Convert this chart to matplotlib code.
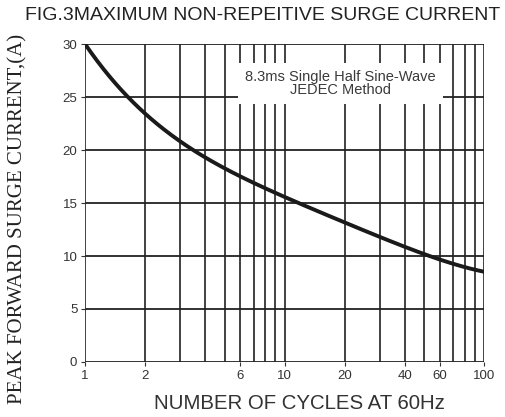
import numpy as np
import matplotlib.pyplot as plt

plt.rcParams['font.family'] = ['Liberation Sans', 'DejaVu Sans']

# surge current curve
cycles = [1, 1.3, 1.62, 2, 3, 3.55, 5, 6, 10, 20, 40, 53, 60, 100]
current = [30, 27.3, 25, 23.4, 20.8, 20, 18.3, 17.5, 15.6, 13.1, 10.9, 10.0, 9.7, 8.5]
xticks = [1, 2, 6, 10, 20, 40, 60, 100]
yticks = [0, 5, 10, 15, 20, 25, 30]

fig = plt.figure(figsize=(5.06, 4.17), dpi=100)
ax = fig.add_axes([0.168, 0.132, 0.789, 0.762])

# grid: every integer cycle count, every 5 A
for v in list(range(1, 10)) + list(range(10, 101, 10)):
    ax.axvline(v, color='#333333', lw=1.3, zorder=1)
for v in yticks:
    ax.axhline(v, color='#222222', lw=1.3, zorder=1)

# smooth curve through the read points (fit in log space)
lx = np.log10(cycles)
coef = np.polyfit(lx, current, 4)
xs = np.linspace(0, 2, 200)
ax.plot(10 ** xs, np.polyval(coef, xs), color='#1a1a1a', lw=2.8, zorder=3,
        solid_capstyle='round')

ax.set_xscale('log')
ax.set_xlim(1, 100)
ax.set_ylim(0, 30)
ax.set_xticks(xticks)
ax.set_xticklabels([str(t) for t in xticks])
ax.xaxis.set_minor_locator(plt.NullLocator())
ax.set_yticks(yticks)
ax.tick_params(labelsize=9.5, length=3, pad=2.5, colors='#333333')
for s in ax.spines.values():
    s.set_visible(False)

ax.text(0.64, 0.875, '8.3ms Single Half Sine-Wave\nJEDEC Method', transform=ax.transAxes,
        ha='center', va='center', fontsize=10.5, color='#3a3a3a', linespacing=0.9,
        bbox=dict(facecolor='white', edgecolor='none', pad=5), zorder=4)

fig.text(0.52, 0.962, 'FIG.3MAXIMUM NON-REPEITIVE SURGE CURRENT', ha='center', va='center',
         fontsize=14, color='#222222')
fig.text(0.591, 0.033, 'NUMBER OF CYCLES AT 60Hz', ha='center', va='center',
         fontsize=14.7, color='#333333')
fig.text(0.036, 0.475, 'PEAK FORWARD SURGE CURRENT,(A)', rotation=90, ha='center', va='center',
         fontsize=15, family='Liberation Serif', color='#222222')

fig.savefig('out.png')
